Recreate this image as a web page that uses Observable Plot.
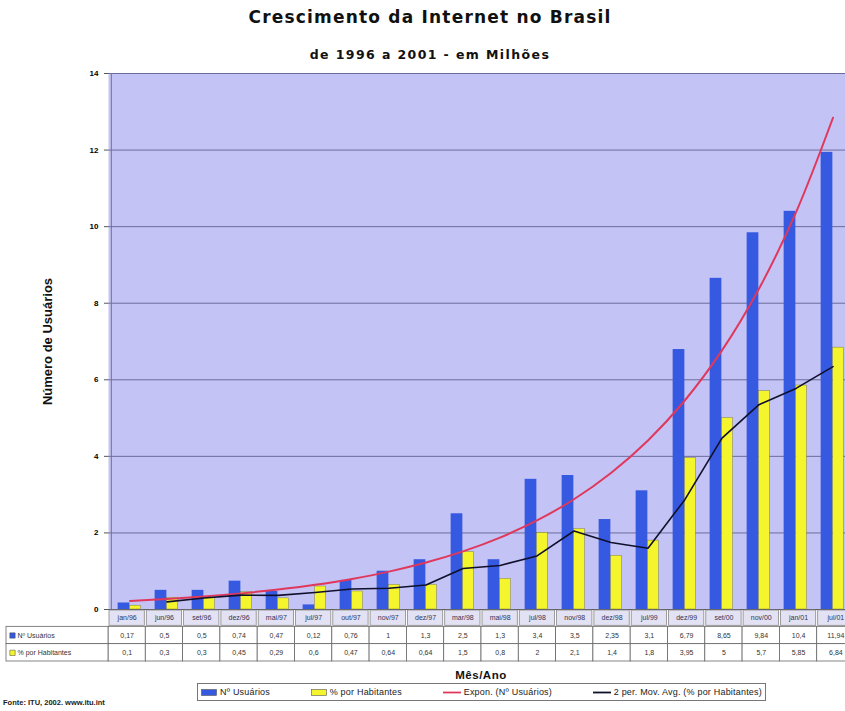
<!DOCTYPE html>
<html>
<head>
<meta charset="utf-8">
<script src="https://cdn.jsdelivr.net/npm/d3@7"></script>
<script src="https://cdn.jsdelivr.net/npm/@observablehq/plot@0.6"></script>
<style>
  body { margin: 0; overflow: hidden; background: #fff; font-family: "Liberation Sans", Arial, sans-serif; }
  #grafico { position: relative; width: 860px; height: 711px; overflow: hidden; }
  .abs { position: absolute; }
  #titulo { left: 0; width: 860px; top: 7px; text-align: center; font-family: "DejaVu Sans", sans-serif;
            font-size: 17px; font-weight: bold; letter-spacing: 1.2px; color: #111; }
  #subtitulo { left: 0; width: 860px; top: 47px; text-align: center; font-family: "DejaVu Sans", sans-serif;
               font-size: 12.5px; font-weight: bold; letter-spacing: 1.4px; color: #111; }
  #eixoX { left: 108px; width: 746px; top: 669px; text-align: center; font-size: 11.5px; font-weight: bold; letter-spacing: 0.5px; color: #111; }
  #legenda { left: 197px; top: 683px; width: 561px; height: 16px; border: 1px solid #777; background: #fff; padding: 0 3px;
             display: flex; align-items: center; justify-content: space-between; font-size: 9px; letter-spacing: 0.2px; color: #222; }
  #legenda span { display: inline-flex; align-items: center; gap: 3px; white-space: nowrap; }
  #fonte { left: 3px; top: 698px; font-size: 7.5px; font-weight: bold; color: #222; }
</style>
</head>
<body>
<div id="grafico">
  <div id="titulo" class="abs">Crescimento da Internet no Brasil</div>
  <div id="subtitulo" class="abs">de 1996 a 2001 - em Milhões</div>
</div>
<script>
// Períodos (mês/ano)
const categorias = ["jan/96", "jun/96", "set/96", "dez/96", "mai/97", "jul/97", "out/97", "nov/97", "dez/97", "mar/98",
                    "mai/98", "jul/98", "nov/98", "dez/98", "jul/99", "dez/99", "set/00", "nov/00", "jan/01", "jul/01"];
// Nº de usuários (milhões)
const usuarios = [0.17, 0.5, 0.5, 0.74, 0.47, 0.12, 0.76, 1, 1.3, 2.5, 1.3, 3.4, 3.5, 2.35, 3.1, 6.79, 8.65, 9.84, 10.4, 11.94];
// % por habitantes
const porHabitantes = [0.1, 0.3, 0.3, 0.45, 0.29, 0.6, 0.47, 0.64, 0.64, 1.5, 0.8, 2, 2.1, 1.4, 1.8, 3.95, 5, 5.7, 5.85, 6.84];
// Rótulos das séries
const nomeUsuarios = "Nº Usuários";
const nomePorHab = "% por Habitantes";
const nomeExpon = "Expon. (Nº Usuários)";
const nomeMedia = "2 per. Mov. Avg. (% por Habitantes)";
// Marcas do eixo Y
const ticksY = [0, 2, 4, 6, 8, 10, 12, 14];

const cores = { usuarios: "#3559e0", porHab: "#f5f52e", expon: "#e0385c", media: "#10102c", fundo: "#c3c3f5", grade: "#6c6c9c" };

const W = 860, ML = 108, MR = 6;
const n = categorias.length;
const passo = (W - ML - MR) / n;

const dados = categorias.map((c, i) => ({ c, i, u: usuarios[i], p: porHabitantes[i] }));

// Linha de tendência exponencial (mínimos quadrados sobre ln y)
const xs = dados.map(d => d.i + 1);
const ln = usuarios.map(Math.log);
const mx = d3.mean(xs), ml = d3.mean(ln);
const b = d3.sum(xs, (x, k) => (x - mx) * (ln[k] - ml)) / d3.sum(xs, x => (x - mx) ** 2);
const a = ml - b * mx;
const tendencia = dados.map(d => ({ c: d.c, v: Math.exp(a + b * (d.i + 1)) }));

// Média móvel de 2 períodos
const media = dados.slice(1).map((d, k) => ({ c: d.c, v: (porHabitantes[k] + porHabitantes[k + 1]) / 2 }));

const principal = Plot.plot({
  width: W, height: 620,
  marginLeft: ML, marginRight: MR, marginTop: 73, marginBottom: 11,
  style: { fontFamily: "'Liberation Sans', Arial, sans-serif", background: "transparent", overflow: "visible" },
  x: { type: "band", domain: categorias, padding: 0, axis: null },
  y: { domain: [0, 14], axis: null },
  marks: [
    Plot.frame({ fill: cores.fundo }),
    Plot.gridY(ticksY.slice(1), { stroke: cores.grade, strokeOpacity: 1, strokeWidth: 1 }),
    Plot.barY(dados, { x: "c", y: "u", fill: cores.usuarios, insetLeft: passo / 2 - 12, insetRight: passo / 2 }),
    Plot.barY(dados, { x: "c", y: "p", fill: cores.porHab, stroke: "#6a6a30", strokeWidth: 0.4,
                       insetLeft: passo / 2, insetRight: passo / 2 - 11 }),
    Plot.line(tendencia, { x: "c", y: "v", stroke: cores.expon, strokeWidth: 2, curve: "catmull-rom" }),
    Plot.line(media, { x: "c", y: "v", stroke: cores.media, strokeWidth: 1.6 }),
    Plot.ruleY([0], { stroke: "#555" }),
    Plot.ruleX([categorias[0]], { dx: -passo / 2, stroke: "#777" }),
    Plot.axisY({ ticks: ticksY, tickSize: 4, tickPadding: 6, fontSize: 8, fontWeight: "bold", label: null, stroke: "#555" }),
    Plot.text(["Número de Usuários"], { frameAnchor: "left", textAnchor: "middle", rotate: -90, dx: -61, fontSize: 13,
                                        fontWeight: "bold", fill: "#111", letterSpacing: "1.8px" })
  ]
});
principal.classList.add("abs");
principal.style.left = "0px";
principal.style.top = "0px";
document.getElementById("grafico").appendChild(principal);

// Tabela de dados sob o eixo X
const fmt = v => String(v).replace(".", ",");
const linhas = [
  { nome: nomeUsuarios, valores: usuarios, cor: cores.usuarios, r: 1 },
  { nome: nomePorHab, valores: porHabitantes, cor: cores.porHab, r: 2 }
];
const celulas = linhas.flatMap(l => l.valores.map((v, i) => ({ i, r: l.r, t: fmt(v) })));
const cabecalho = categorias.map((c, i) => ({ i, t: c }));
const inicioRotulo = -(ML - 6) / passo;

const tabela = Plot.plot({
  width: W, height: 53,
  marginLeft: ML, marginRight: MR, marginTop: 0, marginBottom: 1,
  style: { fontFamily: "'Liberation Sans', Arial, sans-serif", background: "transparent", overflow: "visible" },
  x: { type: "linear", domain: [0, n], axis: null },
  y: { type: "linear", domain: [0, 3], reverse: true, axis: null },
  marks: [
    Plot.rect(cabecalho, { x1: "i", x2: d => d.i + 1, y1: 0, y2: 1, fill: "#e2e2f4", stroke: "#888", strokeWidth: 0.8, inset: 1 }),
    Plot.rect(celulas, { x1: "i", x2: d => d.i + 1, y1: "r", y2: d => d.r + 1, fill: "#fff", stroke: "#666", strokeWidth: 0.8 }),
    Plot.rect(linhas, { x1: inicioRotulo, x2: 0, y1: "r", y2: d => d.r + 1, fill: "#fff", stroke: "#666", strokeWidth: 0.8 }),
    Plot.text(cabecalho, { x: d => d.i + 0.5, y: 0.5, text: "t", fontSize: 7, fill: "#335" }),
    Plot.text(celulas, { x: d => d.i + 0.5, y: d => d.r + 0.5, text: "t", fontSize: 7, fill: "#333" }),
    Plot.dot(linhas, { x: inicioRotulo, y: d => d.r + 0.5, dx: 6, symbol: "square", r: 3, fill: "cor", stroke: "#444", strokeWidth: 0.5 }),
    Plot.text(linhas, { x: inicioRotulo, y: d => d.r + 0.5, dx: 11, text: "nome", textAnchor: "start", fontSize: 7, fill: "#333" })
  ]
});
tabela.classList.add("abs");
tabela.style.left = "0px";
tabela.style.top = "609px";
document.getElementById("grafico").appendChild(tabela);

// Título do eixo X, legenda e fonte
const g = document.getElementById("grafico");
const eixoX = document.createElement("div");
eixoX.id = "eixoX"; eixoX.className = "abs"; eixoX.textContent = "Mês/Ano";
g.appendChild(eixoX);

const legenda = document.createElement("div");
legenda.id = "legenda"; legenda.className = "abs";
const itens = [
  { nome: nomeUsuarios, tipo: "barra", cor: cores.usuarios },
  { nome: nomePorHab, tipo: "barra", cor: cores.porHab },
  { nome: nomeExpon, tipo: "linha", cor: cores.expon },
  { nome: nomeMedia, tipo: "linha", cor: cores.media }
];
for (const it of itens) {
  const s = document.createElement("span");
  const chave = it.tipo === "barra"
    ? `<svg width="16" height="7"><rect x="0.5" y="0.5" width="15" height="6" fill="${it.cor}" stroke="#555" stroke-width="0.6"/></svg>`
    : `<svg width="18" height="7"><line x1="0" x2="18" y1="3.5" y2="3.5" stroke="${it.cor}" stroke-width="1.8"/></svg>`;
  s.innerHTML = chave + `<span>${it.nome}</span>`;
  legenda.appendChild(s);
}
g.appendChild(legenda);

const fonte = document.createElement("div");
fonte.id = "fonte"; fonte.className = "abs"; fonte.textContent = "Fonte: ITU, 2002. www.itu.int";
g.appendChild(fonte);
</script>
</body>
</html>
